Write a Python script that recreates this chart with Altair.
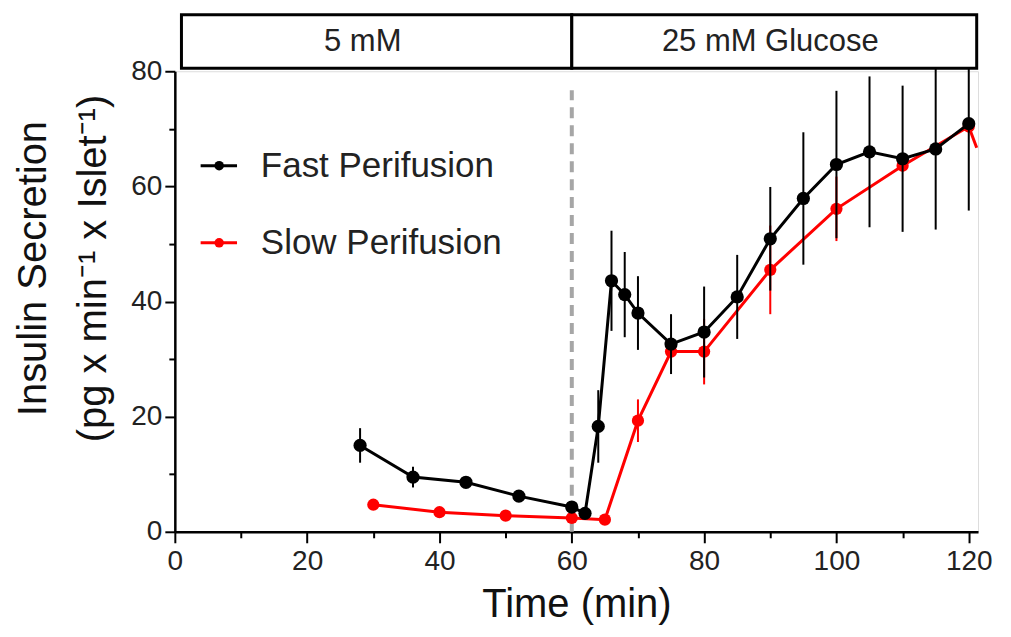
import altair as alt
import pandas as pd

# Fast perifusion (black)
fast_t = [28, 36, 44, 52, 60, 62, 64, 66, 68, 70, 75, 80, 85, 90, 95, 100, 105, 110, 115, 120]
fast_y = [15.0, 9.5, 8.6, 6.2, 4.3, 3.2, 18.3, 43.6, 41.2, 38.0, 32.6, 34.7, 40.8, 50.9, 57.9, 63.8, 66.0, 64.8, 66.5, 70.9]
fast_e = [3.0, 1.8, 0.8, 0.6, 0.5, 0.8, 6.3, 8.7, 7.4, 6.4, 5.2, 7.9, 7.3, 9.0, 11.5, 12.8, 13.1, 12.7, 14.0, 15.1]

# Slow perifusion (red)
slow_t = [30, 40, 50, 60, 65, 70, 75, 80, 90, 100, 110, 120]
slow_y = [4.7, 3.4, 2.8, 2.4, 2.1, 19.3, 31.3, 31.3, 45.5, 56.1, 63.6, 70.4]
slow_e = [0.5, 0.4, 0.4, 0.4, 0.4, 3.7, 1.0, 5.7, 7.7, 5.6, 1.0, 1.0]
slow_tail_t = [120, 121.2]
slow_tail_y = [70.4, 66.7]

# Condition bar
bar_labels = ["5 mM", "25 mM Glucose"]
bar_start = [1.0, 60]
bar_end = [60, 121.2]
bar_text_x = [28.4, 90.0]
bar_y0, bar_y1 = 80.5, 89.8

# Legend
legend_names = ["Fast Perifusion", "Slow Perifusion"]
legend_colors = ["#000000", "#ff0000"]
legend_y = [63.6, 50.2]

FONT = "Liberation Sans"

xs = alt.Scale(domain=[0, 121.4], nice=False, zero=False)
ys = alt.Scale(domain=[0, 80], nice=False)

fast = pd.DataFrame({"t": fast_t, "y": fast_y, "lo": [a - b for a, b in zip(fast_y, fast_e)],
                     "hi": [a + b for a, b in zip(fast_y, fast_e)]})
slow = pd.DataFrame({"t": slow_t, "y": slow_y, "lo": [a - b for a, b in zip(slow_y, slow_e)],
                     "hi": [a + b for a, b in zip(slow_y, slow_e)]})
tail = pd.DataFrame({"t": slow_tail_t, "y": slow_tail_y})

x_axis = alt.Axis(
    values=list(range(0, 121, 5)),
    labelExpr="datum.value % 20 === 0 ? datum.label : ''",
    tickSize={"condition": {"test": "datum.value % 20 === 0", "value": 11}, "value": 6},
    tickWidth=2, tickColor="black", domainColor="black", domainWidth=2.5,
    labelFont=FONT, labelFontSize=28, labelColor="#222", labelPadding=5, labelFlush=False,
    title="Time (min)", titleFont=FONT, titleFontSize=40, titleFontWeight="normal",
    titleColor="#111", titlePadding=9, grid=False,
)
y_axis = alt.Axis(
    values=list(range(0, 81, 10)),
    labelExpr="datum.value % 20 === 0 ? datum.label : ''",
    tickSize={"condition": {"test": "datum.value % 20 === 0", "value": 10}, "value": 6},
    tickWidth=2, tickColor="black", domainColor="black", domainWidth=2.5,
    labelFont=FONT, labelFontSize=28, labelColor="#222", labelPadding=3, labelFlush=False,
    title=["Insulin Secretion", "(pg x min\u207b\u00b9 x Islet\u207b\u00b9)"],
    titleFont=FONT, titleFontSize=40, titleFontWeight="normal", titleColor="#111",
    titlePadding=17, titleLineHeight=60, titleY=197, grid=False,
)

X = alt.X("t:Q", scale=xs, axis=x_axis)
Y = alt.Y("y:Q", scale=ys, axis=y_axis)

# dashed vertical line at 60 min
vline = alt.Chart(pd.DataFrame({"t": [60], "y": [0], "y2": [76.7]})).mark_rule(
    color="#a6a6a6", strokeWidth=4, strokeDash=[11, 7]
).encode(x=alt.X("t:Q", scale=xs), y=alt.Y("y:Q", scale=ys), y2="y2:Q")

def series(df, color, size):
    err = alt.Chart(df).mark_rule(color=color, strokeWidth=2).encode(
        x=alt.X("t:Q", scale=xs), y=alt.Y("lo:Q", scale=ys), y2="hi:Q")
    line = alt.Chart(df).mark_line(color=color, strokeWidth=3).encode(
        x=alt.X("t:Q", scale=xs), y=alt.Y("y:Q", scale=ys))
    pts = alt.Chart(df).mark_point(color=color, filled=True, opacity=1, size=size).encode(
        x=alt.X("t:Q", scale=xs), y=alt.Y("y:Q", scale=ys))
    return err, line, pts

s_err, s_line, s_pts = series(slow, "#ff0000", 150)
f_err, f_line, f_pts = series(fast, "#000000", 175)
s_tail = alt.Chart(tail).mark_line(color="#ff0000", strokeWidth=3).encode(
    x=alt.X("t:Q", scale=xs), y=alt.Y("y:Q", scale=ys))

axes = alt.Chart(fast).mark_point(opacity=0).encode(x=X, y=Y)

# condition bar
bar_df = pd.DataFrame({"x0": bar_start, "x1": bar_end, "y0": [bar_y0] * 2, "y1": [bar_y1] * 2,
                       "tx": bar_text_x, "ty": [(bar_y0 + bar_y1) / 2] * 2, "label": bar_labels})
bar = alt.Chart(bar_df).mark_rect(fill="white", stroke="black", strokeWidth=3).encode(
    x=alt.X("x0:Q", scale=xs), x2="x1:Q", y=alt.Y("y0:Q", scale=ys), y2="y1:Q")
bar_text = alt.Chart(bar_df).mark_text(font=FONT, fontSize=31, color="#222").encode(
    x=alt.X("tx:Q", scale=xs), y=alt.Y("ty:Q", scale=ys), text="label:N")

# legend
leg = pd.DataFrame({"name": legend_names, "color": legend_colors, "y": legend_y,
                    "x0": [3.9] * 2, "x1": [9.4] * 2, "xm": [6.7] * 2, "xt": [13.0] * 2})
leg_line = alt.Chart(leg).mark_rule(strokeWidth=3).encode(
    x=alt.X("x0:Q", scale=xs), x2="x1:Q", y=alt.Y("y:Q", scale=ys),
    color=alt.Color("color:N", scale=None))
leg_pt = alt.Chart(leg).mark_point(filled=True, opacity=1, size=90).encode(
    x=alt.X("xm:Q", scale=xs), y=alt.Y("y:Q", scale=ys),
    color=alt.Color("color:N", scale=None))
leg_text = alt.Chart(leg).mark_text(align="left", font=FONT, fontSize=35, color="#222").encode(
    x=alt.X("xt:Q", scale=xs), y=alt.Y("y:Q", scale=ys), text="name:N")

chart = alt.layer(
    axes, vline, s_err, s_line, s_tail, s_pts, f_err, f_line, f_pts,
    bar, bar_text, leg_line, leg_pt, leg_text
).properties(
    width=804, height=461,
    padding={"left": 5, "top": 5, "right": 10, "bottom": 5},
).configure_view(stroke=None).configure(background="white")

chart.save("out.html", embed_options={"renderer": "svg", "actions": False})
